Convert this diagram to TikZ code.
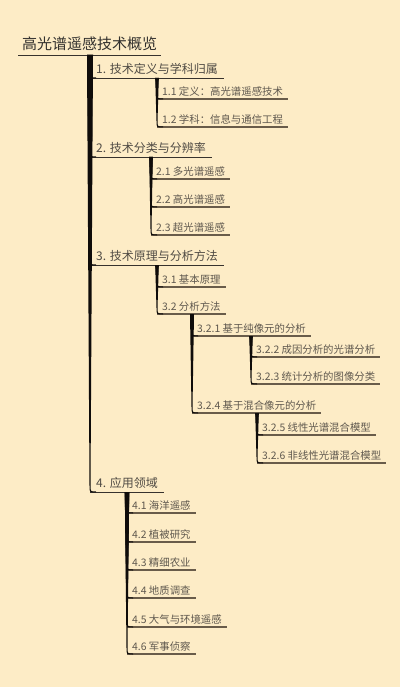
\documentclass[tikz,border=0pt]{standalone}
\usepackage{fontspec}
\setmainfont{Noto Sans CJK SC}
\usetikzlibrary{calc}
\definecolor{bgc}{RGB}{253,236,198}
\definecolor{txtA}{RGB}{50,48,45}
\definecolor{txtB}{RGB}{80,75,68}
\definecolor{txtC}{RGB}{95,88,78}
\definecolor{lineA}{RGB}{55,50,45}
\definecolor{lineB}{RGB}{105,92,74}
\definecolor{connc}{RGB}{15,12,10}
\tikzset{
  ulA/.style={append after command={(\tikzlastnode.south west) edge[draw=lineA,line width=0.9pt] (\tikzlastnode.south east)}},
  ulB/.style={append after command={(\tikzlastnode.south west) edge[draw=lineB,line width=1.3pt] (\tikzlastnode.south east)}},
  rootnode/.style={anchor=south west,inner xsep=4pt,inner ysep=4pt,text=txtA,font=\fontsize{15}{18}\selectfont,ulA},
  topic/.style={anchor=south west,inner xsep=6pt,inner ysep=3pt,text=txtB,font=\fontsize{12}{14}\selectfont,ulA},
  sub/.style={anchor=south west,inner xsep=5pt,inner ysep=2.5pt,text=txtC,font=\fontsize{10.4}{12}\selectfont,ulB},
  conn/.style={fill=connc}
}
% tapered connector: #1 branch coordinate, #2 child node, #3 half width at top
\newcommand\branch[3]{%
  \fill[conn] let \p1=(#1), \p2=(#2.south west) in
    (\x1-#3,\y1) -- (\x1-0.5pt,\y2+6pt)
    .. controls (\x1-0.5pt,\y2-0.5pt) .. (\x1+6pt,\y2-0.5pt)
    -- (\x1+6pt,\y2+0.5pt)
    .. controls (\x1+0.5pt,\y2+0.5pt) .. (\x1+0.5pt,\y2+6pt)
    -- (\x1+#3,\y1) -- cycle;}
\begin{document}
\begin{tikzpicture}[x=1pt,y=-1pt]
\fill[bgc] (0,0) rectangle (400,687);
\useasboundingbox (0,0) rectangle (400,687);

\node[rootnode] (root) at (18,55) {高光谱遥感技术概览};

\node[topic] (n1) at (90,78) {1. 技术定义与学科归属};
\node[topic] (n2) at (90,157) {2. 技术分类与分辨率};
\node[topic] (n3) at (90,265) {3. 技术原理与分析方法};
\node[topic] (n4) at (90,492) {4. 应用领域};

\node[sub] (n11) at (157,99) {1.1 定义：高光谱遥感技术};
\node[sub] (n12) at (157,127) {1.2 学科：信息与通信工程};

\node[sub] (n21) at (151,179) {2.1 多光谱遥感};
\node[sub] (n22) at (151,207) {2.2 高光谱遥感};
\node[sub] (n23) at (151,235) {2.3 超光谱遥感};

\node[sub] (n31) at (157,287) {3.1 基本原理};
\node[sub] (n32) at (157,314) {3.2 分析方法};
\node[sub] (n321) at (192,336) {3.2.1 基于纯像元的分析};
\node[sub] (n322) at (251,357) {3.2.2 成因分析的光谱分析};
\node[sub] (n323) at (251,384) {3.2.3 统计分析的图像分类};
\node[sub] (n324) at (192,413) {3.2.4 基于混合像元的分析};
\node[sub] (n325) at (257,435) {3.2.5 线性光谱混合模型};
\node[sub] (n326) at (257,463) {3.2.6 非线性光谱混合模型};

\node[sub] (n41) at (127,513) {4.1 海洋遥感};
\node[sub] (n42) at (127,542) {4.2 植被研究};
\node[sub] (n43) at (127,570) {4.3 精细农业};
\node[sub] (n44) at (127,598) {4.4 地质调查};
\node[sub] (n45) at (127,627) {4.5 大气与环境遥感};
\node[sub] (n46) at (127,654) {4.6 军事侦察};

\coordinate (b0) at ([xshift=72pt]root.south west);
\coordinate (b1) at ([xshift=67pt]n1.south west);
\coordinate (b2) at ([xshift=61pt]n2.south west);
\coordinate (b3) at ([xshift=67pt]n3.south west);
\coordinate (b32) at ([xshift=35pt]n32.south west);
\coordinate (b321) at ([xshift=59pt]n321.south west);
\coordinate (b324) at ([xshift=65pt]n324.south west);
\coordinate (b4) at ([xshift=37pt]n4.south west);

\foreach \c in {n1,n2,n3,n4} {\branch{b0}{\c}{3pt}}
\foreach \c in {n11,n12} {\branch{b1}{\c}{1.8pt}}
\foreach \c in {n21,n22,n23} {\branch{b2}{\c}{1.8pt}}
\foreach \c in {n31,n32} {\branch{b3}{\c}{1.8pt}}
\foreach \c in {n321,n324} {\branch{b32}{\c}{2pt}}
\foreach \c in {n322,n323} {\branch{b321}{\c}{1.8pt}}
\foreach \c in {n325,n326} {\branch{b324}{\c}{1.8pt}}
\foreach \c in {n41,n42,n43,n44,n45,n46} {\branch{b4}{\c}{2.2pt}}
\end{tikzpicture}
\end{document}
